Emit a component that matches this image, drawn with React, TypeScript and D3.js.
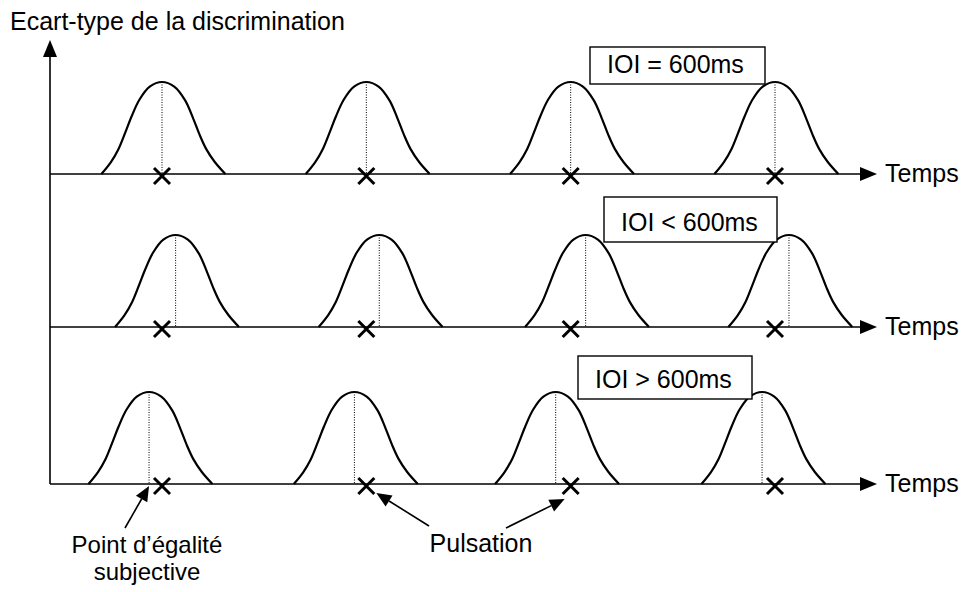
import * as d3 from "d3";

// pulse times (ms) on the time axis, same for every row
const pulses = [0, 600, 1200, 1800];
// condition label of each row
const conditions = ["IOI = 600ms", "IOI < 600ms", "IOI > 600ms"];
// shift (ms) of the point of subjective equality vs. each pulse, per row
const pseShift = [
  [0, 0, 0, 0],
  [40, 38, 44, 41],
  [-38, -35, -44, -38],
];
// shape of one bell: offset (ms) from the PSE, relative height
const bellOffsets = [-178, -150, -128, -108, -90, -66, -36, 0, 36, 68, 92, 110, 130, 155, 186];
const bellHeights = [0, 0.13, 0.27, 0.45, 0.62, 0.81, 0.95, 1, 0.95, 0.8, 0.6, 0.43, 0.27, 0.13, 0];

const W = 969;
const H = 592;
const FONT = "'Liberation Sans', Arial, sans-serif";
const rowY = [174, 327, 484];
const bellH = 92;
const axisX = 50;
const axisEnd = 877;
const boxes = [
  { x: 590, y: 47, w: 175, h: 37 },
  { x: 604, y: 197, w: 173, h: 45 },
  { x: 578, y: 356, w: 174, h: 43 },
];

function Arrow({ x1, y1, x2, y2, len = 15, half = 6.5 }: any) {
  const a = Math.atan2(y2 - y1, x2 - x1);
  const bx = x2 - len * Math.cos(a);
  const by = y2 - len * Math.sin(a);
  const px = -Math.sin(a) * half;
  const py = Math.cos(a) * half;
  return (
    <g>
      <line x1={x1} y1={y1} x2={bx} y2={by} stroke="#000" strokeWidth={1.6} />
      <polygon points={`${x2},${y2} ${bx + px},${by + py} ${bx - px},${by - py}`} fill="#000" />
    </g>
  );
}

export default function App() {
  const x = d3.scaleLinear().domain([0, 1800]).range([162, 775]);

  return (
    <svg width={W} height={H} style={{ position: "absolute", left: 0, top: 0, background: "#fff" }} fontFamily={FONT}>
      <text x={10} y={30} fontSize={25} fill="#000">Ecart-type de la discrimination</text>

      {/* y axis */}
      <line x1={axisX} y1={52} x2={axisX} y2={rowY[2]} stroke="#000" strokeWidth={1.6} />
      <polygon points={`${axisX},40 ${axisX - 7},57 ${axisX + 7},57`} fill="#000" />

      {rowY.map((base, r) => {
        const y = d3.scaleLinear().domain([0, 1]).range([base, base - bellH]);
        return (
          <g key={r}>
            <line x1={axisX} y1={base} x2={axisEnd - 14} y2={base} stroke="#000" strokeWidth={1.6} />
            <polygon points={`${axisEnd},${base} ${axisEnd - 17},${base - 7} ${axisEnd - 17},${base + 7}`} fill="#000" />
            <text x={885} y={base + 8} fontSize={25} fill="#000">Temps</text>

            {pulses.map((p, i) => {
              const pse = p + pseShift[r][i];
              const pts = bellOffsets.map((o, k) => [x(pse + o), y(bellHeights[k])] as [number, number]);
              const line = d3.line().curve(d3.curveCatmullRom.alpha(0.5))(pts) || "";
              const cx = x(p);
              const cy = base + 2;
              return (
                <g key={i}>
                  <line x1={x(pse)} y1={y(1)} x2={x(pse)} y2={base} stroke="#000" strokeWidth={1} strokeDasharray="1,1.5" />
                  <path d={line} fill="none" stroke="#000" strokeWidth={2.2} />
                  <path d={`M${cx - 8},${cy - 8}L${cx + 8},${cy + 8}M${cx - 8},${cy + 8}L${cx + 8},${cy - 8}`} stroke="#000" strokeWidth={3} />
                </g>
              );
            })}
          </g>
        );
      })}

      {boxes.map((b, r) => (
        <g key={r}>
          <rect x={b.x} y={b.y} width={b.w} height={b.h} fill="#fff" stroke="#000" strokeWidth={1.4} />
          <text x={b.x + 17} y={b.y + b.h - 11} fontSize={25} fill="#000">{conditions[r]}</text>
        </g>
      ))}

      {/* annotations */}
      <Arrow x1={125} y1={528} x2={x(pulses[0] + pseShift[2][0])} y2={rowY[2] + 2} />
      <text x={147} y={553} fontSize={24} textAnchor="middle" fill="#000">Point d’égalité</text>
      <text x={147} y={580} fontSize={24} textAnchor="middle" fill="#000">subjective</text>

      <Arrow x1={429} y1={526} x2={x(pulses[1]) + 10} y2={rowY[2] + 9} />
      <Arrow x1={506} y1={528} x2={x(pulses[2]) - 6} y2={rowY[2] + 15} />
      <text x={481} y={552} fontSize={25} textAnchor="middle" fill="#000">Pulsation</text>
    </svg>
  );
}
